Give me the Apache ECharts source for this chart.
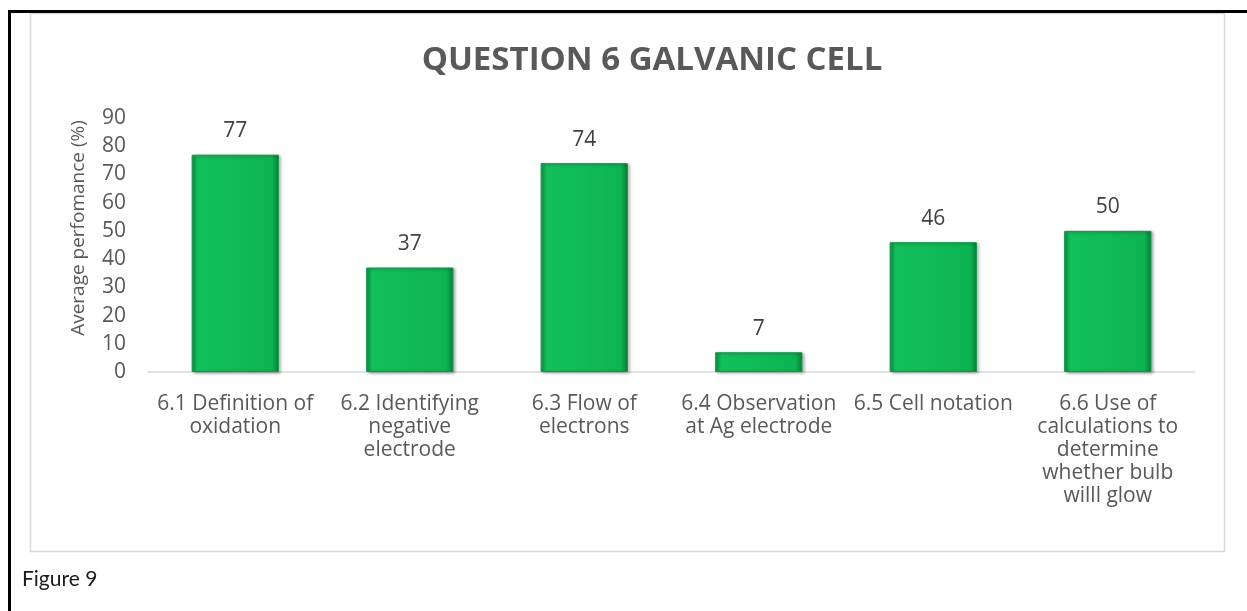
<!DOCTYPE html>
<html>
<head>
<meta charset="utf-8">
<title>Question 6 Galvanic Cell</title>
<script src="https://cdn.jsdelivr.net/npm/echarts@6/dist/echarts.min.js"></script>
<style>
  html, body { margin: 0; padding: 0; background: #ffffff; }
  #chart { width: 1247px; height: 611px; }
</style>
</head>
<body>
<div id="chart"></div>
<script>
// Question labels (wrapped as printed under each bar)
const categories = [
  '6.1 Definition of\noxidation',
  '6.2 Identifying\nnegative\nelectrode',
  '6.3 Flow of\nelectrons',
  '6.4 Observation\nat Ag electrode',
  '6.5 Cell notation',
  '6.6 Use of\ncalculations to\ndetermine\nwhether bulb\nwilll glow'
];
// Average performance per question (%)
const performance = [77, 37, 74, 7, 46, 50];
const yTicks = { min: 0, max: 90, interval: 10 };
const yAxisTitle = 'Average perfomance (%)';

const FONT = '"Open Sans", "Liberation Sans", sans-serif';
const chart = echarts.init(document.getElementById('chart'), null, { renderer: 'canvas' });

const barFill = new echarts.graphic.LinearGradient(0, 0, 1, 0, [
  { offset: 0, color: '#0a9c45' },
  { offset: 0.07, color: '#12c05b' },
  { offset: 0.5, color: '#0fbb56' },
  { offset: 0.92, color: '#0db452' },
  { offset: 1, color: '#067d35' }
]);

chart.setOption({
  backgroundColor: '#ffffff',
  animation: false,
  textStyle: { fontFamily: FONT },
  title: {
    text: 'QUESTION 6 GALVANIC CELL',
    left: 647,
    top: 39,
    textAlign: 'center',
    textStyle: {
      fontFamily: FONT,
      fontSize: 33,
      fontWeight: 'bold',
      color: '#595959'
    }
  },
  grid: { left: 148, right: 52, top: 118, bottom: 239, containLabel: false },
  xAxis: {
    type: 'category',
    data: categories,
    axisLine: { lineStyle: { color: '#d9d9d9', width: 1.5 } },
    axisTick: { show: false },
    axisLabel: {
      interval: 0,
      margin: 21,
      fontSize: 21,
      lineHeight: 23,
      color: '#595959',
      align: 'center',
      verticalAlign: 'top'
    }
  },
  yAxis: {
    type: 'value',
    min: yTicks.min,
    max: yTicks.max,
    interval: yTicks.interval,
    axisLine: { show: false },
    axisTick: { show: false },
    splitLine: { show: false },
    axisLabel: { fontSize: 21, color: '#595959', margin: 22 }
  },
  series: [{
    type: 'bar',
    data: performance,
    barWidth: '50%',
    itemStyle: {
      color: barFill,
      borderColor: '#0a9946',
      borderWidth: 1,
      shadowColor: 'rgba(0,0,0,0.35)',
      shadowBlur: 3,
      shadowOffsetX: 2,
      shadowOffsetY: 1
    },
    label: {
      show: true,
      position: 'top',
      distance: 13,
      fontSize: 21,
      color: '#404040'
    }
  }],
  graphic: [
    // chart area frame
    {
      type: 'rect',
      shape: { x: 30.5, y: 13.5, width: 1194, height: 538 },
      style: { fill: 'none', stroke: '#d9d9d9', lineWidth: 1.5 },
      silent: true
    },
    // value axis title
    {
      type: 'text',
      x: 79,
      y: 228,
      rotation: Math.PI / 2,
      style: {
        text: yAxisTitle,
        fontFamily: FONT,
        fontSize: 19,
        fill: '#595959',
        align: 'center',
        verticalAlign: 'middle'
      },
      silent: true
    },
    // page rules
    {
      type: 'line',
      shape: { x1: 8, y1: 11.5, x2: 1247, y2: 11.5 },
      style: { stroke: '#000000', lineWidth: 3 },
      silent: true
    },
    {
      type: 'line',
      shape: { x1: 9.5, y1: 10, x2: 9.5, y2: 611 },
      style: { stroke: '#000000', lineWidth: 3 },
      silent: true
    },
    {
      type: 'text',
      left: 22,
      top: 569,
      style: {
        text: 'Figure 9',
        fontFamily: 'Lato, "DejaVu Sans", sans-serif',
        fontSize: 21,
        fill: '#1a1a1a'
      },
      silent: true
    }
  ]
});
</script>
</body>
</html>
